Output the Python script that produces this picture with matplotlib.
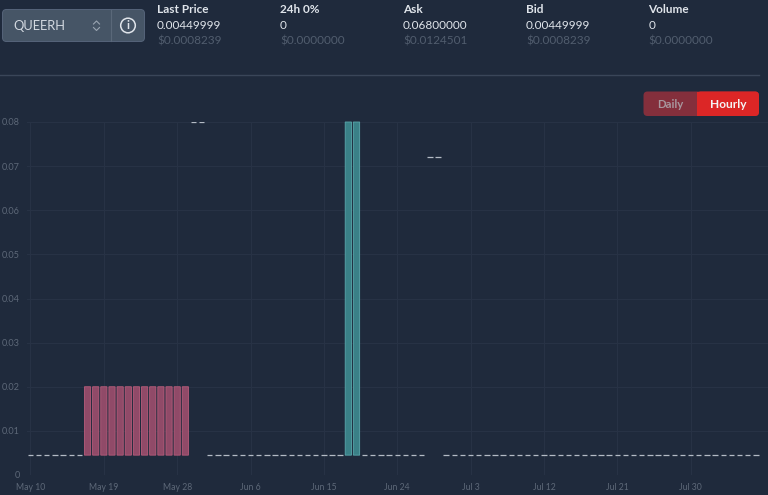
import matplotlib
matplotlib.use("Agg")
import matplotlib.pyplot as plt
import matplotlib.dates as mdates
from matplotlib.patches import FancyBboxPatch, Rectangle, Circle
import pandas as pd

plt.rcParams['font.family'] = ['Lato', 'DejaVu Sans']

W, H = 768, 495
BG = '#1f2a3c'

# one candle a day starting at May 10
start_date = '2023-05-10'
opens = [
    0.0045, 0.0045, 0.0045, 0.0045, 0.0045, 0.0045, 0.0045,
    0.02, 0.02, 0.02, 0.02, 0.02, 0.02, 0.02, 0.02, 0.02, 0.02, 0.02, 0.02, 0.02,
    0.08, 0.08,
    0.0045, 0.0045, 0.0045, 0.0045, 0.0045, 0.0045, 0.0045, 0.0045, 0.0045,
    0.0045, 0.0045, 0.0045, 0.0045, 0.0045, 0.0045, 0.0045, 0.0045,
    0.0045, 0.0045,
    0.0045, 0.0045, 0.0045, 0.0045, 0.0045, 0.0045, 0.0045, 0.0045,
    0.072, 0.072,
    0.0045, 0.0045, 0.0045, 0.0045, 0.0045, 0.0045, 0.0045, 0.0045, 0.0045, 0.0045,
    0.0045, 0.0045, 0.0045, 0.0045, 0.0045, 0.0045, 0.0045, 0.0045, 0.0045, 0.0045,
    0.0045, 0.0045, 0.0045, 0.0045, 0.0045, 0.0045, 0.0045, 0.0045, 0.0045, 0.0045,
    0.0045, 0.0045, 0.0045, 0.0045, 0.0045, 0.0045, 0.0045, 0.0045, 0.0045,
]
closes = [
    0.0045, 0.0045, 0.0045, 0.0045, 0.0045, 0.0045, 0.0045,
    0.0045, 0.0045, 0.0045, 0.0045, 0.0045, 0.0045, 0.0045, 0.0045, 0.0045, 0.0045, 0.0045, 0.0045, 0.0045,
    0.08, 0.08,
    0.0045, 0.0045, 0.0045, 0.0045, 0.0045, 0.0045, 0.0045, 0.0045, 0.0045,
    0.0045, 0.0045, 0.0045, 0.0045, 0.0045, 0.0045, 0.0045, 0.0045,
    0.08, 0.08,
    0.0045, 0.0045, 0.0045, 0.0045, 0.0045, 0.0045, 0.0045, 0.0045,
    0.072, 0.072,
    0.0045, 0.0045, 0.0045, 0.0045, 0.0045, 0.0045, 0.0045, 0.0045, 0.0045, 0.0045,
    0.0045, 0.0045, 0.0045, 0.0045, 0.0045, 0.0045, 0.0045, 0.0045, 0.0045, 0.0045,
    0.0045, 0.0045, 0.0045, 0.0045, 0.0045, 0.0045, 0.0045, 0.0045, 0.0045, 0.0045,
    0.0045, 0.0045, 0.0045, 0.0045, 0.0045, 0.0045, 0.0045, 0.0045, 0.0045,
]

y_ticks = [0, 0.01, 0.02, 0.03, 0.04, 0.05, 0.06, 0.07, 0.08]
y_labels = ['0', '0.01', '0.02', '0.03', '0.04', '0.05', '0.06', '0.07', '0.08']
x_ticks = ['2023-05-10', '2023-05-19', '2023-05-28', '2023-06-06', '2023-06-15',
           '2023-06-24', '2023-07-03', '2023-07-12', '2023-07-21', '2023-07-30']
x_labels = ['May 10', 'May 19', 'May 28', 'Jun 6', 'Jun 15', 'Jun 24', 'Jul 3', 'Jul 12', 'Jul 21', 'Jul 30']

stat_names = ['Last Price', '24h 0%', 'Ask', 'Bid', 'Volume']
stat_values = ['0.00449999', '0', '0.06800000', '0.00449999', '0']
stat_usd = ['$0.0008239', '$0.0000000', '$0.0124501', '$0.0008239', '$0.0000000']
stat_x = [157, 280, 403, 526, 648.5]

fig = plt.figure(figsize=(W / 100, H / 100), dpi=100, facecolor=BG)

# plot area in pixels: x 27..768, y 122..475
ax = fig.add_axes([27 / W, 1 - 475 / H, (768 - 27) / W, (475 - 122) / H], facecolor=BG)
dates = pd.date_range(start_date, periods=len(opens), freq='D')
xs = mdates.date2num(dates)
px_per_day = 8.15
day0 = mdates.date2num(pd.Timestamp(start_date))
ax.set_xlim(day0 - 3.5 / px_per_day, day0 + (768 - 30.5) / px_per_day)
ax.set_ylim(0, 0.08)

for x, o, c in zip(xs, opens, closes):
    if o == c:
        ax.hlines(o, x - 2.7 / px_per_day, x + 2.7 / px_per_day, color='#b4bbc5', lw=0.9, zorder=3)
    elif c < o:
        ax.bar(x, o - c, bottom=c, width=6.2 / px_per_day, facecolor='#904a68',
               edgecolor='#b85c7b', linewidth=0.6, zorder=3, clip_on=False, snap=False)
    else:
        ax.bar(x, c - o, bottom=o, width=6.3 / px_per_day, facecolor='#3a8087',
               edgecolor='#5aa8ac', linewidth=0.6, zorder=3, clip_on=False, snap=False)

ax.set_yticks(y_ticks)
ax.set_yticklabels(y_labels)
ax.set_xticks(mdates.date2num(pd.to_datetime(x_ticks)))
ax.set_xticklabels(x_labels)
ax.tick_params(axis='x', length=0, labelsize=6.2, labelcolor='#5d6878', pad=6)
ax.tick_params(axis='y', length=0, labelsize=6.6, labelcolor='#5d6878', pad=5)
ax.grid(True, color='#273245', linewidth=0.8)
ax.set_axisbelow(True)
for s in ax.spines.values():
    s.set_visible(False)

# page header drawn in pixel coordinates on top of the figure
ui = fig.add_axes([0, 0, 1, 1], facecolor='none')
ui.set_xlim(0, W)
ui.set_ylim(H, 0)
ui.axis('off')

ui.add_patch(FancyBboxPatch((2.5, 9.5), 142, 32, boxstyle='round,pad=0,rounding_size=4',
                            facecolor='#465566', edgecolor='#56647a', linewidth=0.7))
ui.plot([111, 111], [10, 41], color='#5a6879', lw=0.8)
ui.text(13, 25.5, 'QUEERH', color='#d3d9e0', fontsize=9.3, va='center')
ui.plot([93.5, 96.5, 99.5], [24, 21, 24], color='#9aa5b2', lw=0.8)
ui.plot([93.5, 96.5, 99.5], [27.5, 30.5, 27.5], color='#9aa5b2', lw=0.8)
ui.add_patch(Circle((128, 25.5), 7.3, facecolor='none', edgecolor='#dfe4ea', linewidth=1.1))
ui.text(128, 25.7, 'i', color='#dfe4ea', fontsize=8.5, ha='center', va='center', fontweight='bold')

for x, name, val, usd in zip(stat_x, stat_names, stat_values, stat_usd):
    ui.text(x, 9.5, name, color='#dfe4ea', fontsize=8.5, fontweight='bold', va='center')
    ui.text(x, 25.5, val, color='#dfe4ea', fontsize=8.5, va='center')
    ui.text(x, 41.5, usd, color='#515d6e', fontsize=8.5, va='center')

ui.plot([0, 759], [75, 75], color='#3a4659', lw=1)

# Daily / Hourly toggle
ui.add_patch(FancyBboxPatch((643.5, 91.5), 115.5, 24.5, boxstyle='round,pad=0,rounding_size=4',
                            facecolor='#842f3c', edgecolor='none'))
ui.add_patch(FancyBboxPatch((697, 91.5), 62, 24.5, boxstyle='round,pad=0,rounding_size=4',
                            facecolor='#dc2626', edgecolor='none'))
ui.add_patch(Rectangle((697, 91.5), 8, 24.5, facecolor='#dc2626', edgecolor='none'))
ui.text(670, 104, 'Daily', color='#a8969d', fontsize=8.2, fontweight='bold', ha='center', va='center')
ui.text(728, 104, 'Hourly', color='#f4f4f5', fontsize=8.6, fontweight='bold', ha='center', va='center')

fig.savefig('out.png', dpi=100, facecolor=BG)
